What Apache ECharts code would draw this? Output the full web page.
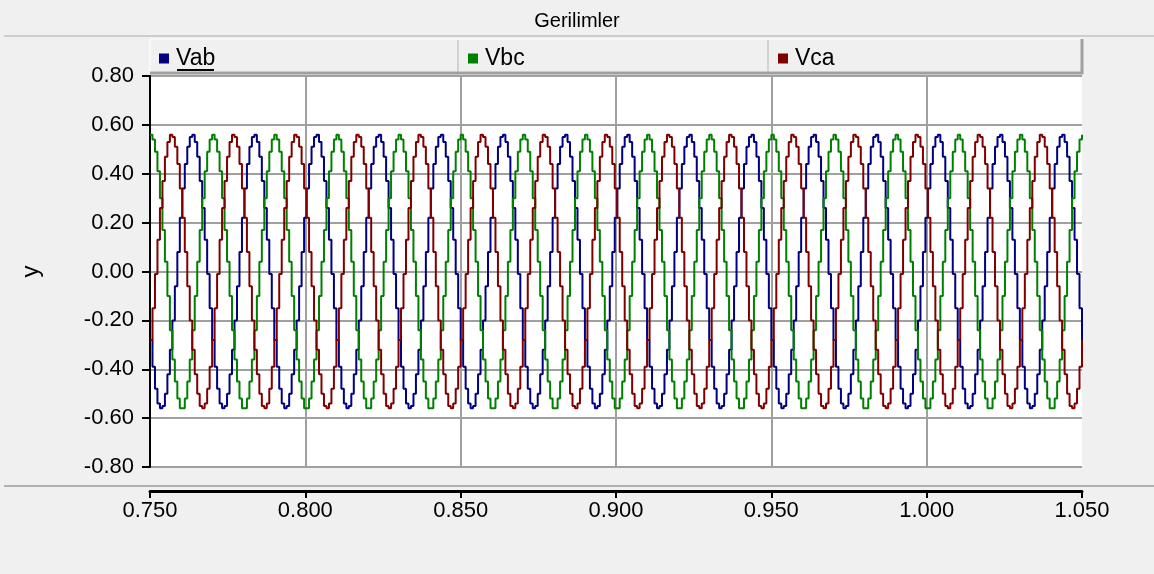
<!DOCTYPE html>
<html>
<head>
<meta charset="utf-8">
<title>Gerilimler</title>
<script src="https://cdn.jsdelivr.net/npm/echarts@6/dist/echarts.min.js"></script>
<style>
  html, body { margin: 0; padding: 0; background: #f0f0f0; }
  #chart { width: 1154px; height: 574px; }
</style>
</head>
<body>
<div id="chart"></div>
<script>
const cycleVab = [-0.28, -0.39, -0.48, -0.54, -0.56, -0.55, -0.50, -0.42, -0.32, -0.20, -0.06, 0.08, 0.22,
                   0.34,  0.44,  0.51,  0.55,  0.56,  0.53,  0.47,  0.37,  0.26,  0.13, -0.01, -0.15];
const cycleVbc = [ 0.56,  0.54,  0.49,  0.41,  0.30,  0.17,  0.04, -0.10, -0.24, -0.36, -0.45, -0.52, -0.56,
                  -0.56, -0.52, -0.45, -0.36, -0.24, -0.10,  0.04,  0.17,  0.30,  0.41,  0.49,  0.54];
const cycleVca = [-0.28, -0.15, -0.01,  0.13,  0.26,  0.37,  0.47,  0.53,  0.56,  0.55,  0.51,  0.44,  0.34,
                   0.22,  0.08, -0.06, -0.20, -0.32, -0.42, -0.50, -0.55, -0.56, -0.54, -0.48, -0.39];

const seriesNames = ["Vab", "Vbc", "Vca"];
const seriesColors = ["#000080", "#008000", "#800000"];
const tStart = 0.75;
const samplesPerCycle = 25;
const cycleTime = 0.02;     // 50 Hz
const cycleCount = 15;      // 0.750 .. 1.050
const xTicks = [0.75, 0.8, 0.85, 0.9, 0.95, 1.0, 1.05];

const FONT = "'Liberation Sans', Arial, sans-serif";

function buildSeries(cycle) {
  const pts = [];
  const n = samplesPerCycle * cycleCount;
  for (let i = 0; i <= n; i++) {
    pts.push([tStart + i * cycleTime / samplesPerCycle, cycle[i % cycle.length]]);
  }
  return pts;
}
const cycles = [cycleVab, cycleVbc, cycleVca];

let myChart = echarts.init(document.getElementById("chart"));

// vertical grid lines: the one on the right edge is not drawn
const vLineColors = xTicks.map((t, i) => (i === xTicks.length - 1 ? "rgba(0,0,0,0)" : "#a0a0a0"));

const legendLefts = [154, 463, 773];

var option = {
  backgroundColor: "#f0f0f0",
  animation: false,
  title: {
    text: "Gerilimler",
    left: "center",
    top: 6,
    textStyle: { fontFamily: FONT, fontSize: 20, fontWeight: "normal", color: "#000" }
  },
  grid: {
    left: 150,
    right: 72,
    top: 76,
    bottom: 107,
    show: true,
    backgroundColor: "#fff",
    borderWidth: 0
  },
  legend: seriesNames.map((name, i) => ({
    data: [name],
    left: legendLefts[i],
    top: 42,
    z: 6,
    icon: "rect",
    itemWidth: 10,
    itemHeight: 10,
    itemGap: 0,
    selectedMode: false,
    textStyle: { fontFamily: FONT, fontSize: 23, color: "#000", padding: [0, 0, 0, 2] }
  })),
  xAxis: {
    type: "value",
    min: 0.75,
    max: 1.05,
    interval: 0.05,
    offset: 24,
    axisLine: { show: true, onZero: false, lineStyle: { color: "#000", width: 3 } },
    axisTick: { show: true, length: 7, lineStyle: { color: "#000", width: 2 } },
    axisLabel: {
      margin: 9,
      fontFamily: FONT,
      fontSize: 22,
      color: "#000",
      formatter: v => v.toFixed(3)
    },
    splitLine: { show: true, lineStyle: { color: vLineColors, width: 2 } }
  },
  yAxis: {
    type: "value",
    min: -0.8,
    max: 0.8,
    interval: 0.2,
    name: "y",
    nameLocation: "middle",
    nameGap: 107,
    nameTextStyle: { fontFamily: FONT, fontSize: 24, color: "#000" },
    axisLine: { show: true, onZero: false, lineStyle: { color: "#000", width: 2 } },
    axisTick: { show: true, length: 8, lineStyle: { color: "#000", width: 2 } },
    axisLabel: {
      margin: 16,
      fontFamily: FONT,
      fontSize: 22,
      color: "#000",
      formatter: v => v.toFixed(2)
    },
    splitLine: { show: true, lineStyle: { color: "#a0a0a0", width: 2 } }
  },
  graphic: [
    // title band separator
    { type: "line", z: 3, shape: { x1: 4, y1: 36, x2: 1154, y2: 36 }, style: { stroke: "#a8a8a8", lineWidth: 1 } },
    // x-axis panel separator
    { type: "line", z: 3, shape: { x1: 4, y1: 486, x2: 1154, y2: 486 }, style: { stroke: "#b0b0b0", lineWidth: 2 } },
    // legend box
    { type: "rect", z: 4, shape: { x: 150, y: 39, width: 932, height: 33 }, style: { fill: "#f0f0f0", stroke: "#ffffff", lineWidth: 1 } },
    { type: "line", z: 4, shape: { x1: 150, y1: 73, x2: 1083, y2: 73 }, style: { stroke: "#a0a0a0", lineWidth: 3 } },
    { type: "line", z: 4, shape: { x1: 1082, y1: 39, x2: 1082, y2: 74 }, style: { stroke: "#a0a0a0", lineWidth: 3 } },
    { type: "line", z: 4, shape: { x1: 458, y1: 40, x2: 458, y2: 72 }, style: { stroke: "#b4b4b4", lineWidth: 1 } },
    { type: "line", z: 4, shape: { x1: 768, y1: 40, x2: 768, y2: 72 }, style: { stroke: "#b4b4b4", lineWidth: 1 } },
    // focus underline under "Vab"
    { type: "line", z: 6, shape: { x1: 177, y1: 70, x2: 214, y2: 70 }, style: { stroke: "#000", lineWidth: 2 } }
  ],
  series: seriesNames.map((name, i) => ({
    name: name,
    type: "line",
    step: "end",
    showSymbol: false,
    symbol: "none",
    color: seriesColors[i],
    lineStyle: { width: 2, color: seriesColors[i] },
    data: buildSeries(cycles[i])
  }))
};

myChart.setOption(option);
</script>
</body>
</html>
